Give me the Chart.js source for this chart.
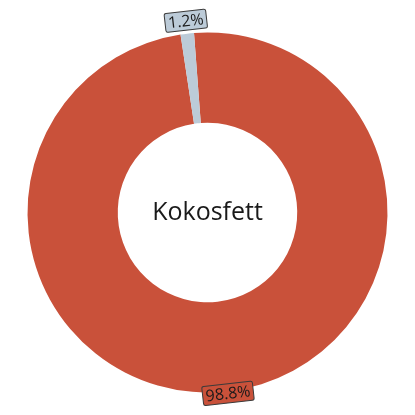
<!DOCTYPE html>
<html>
<head>
<meta charset="utf-8">
<script src="https://cdn.jsdelivr.net/npm/chart.js@4/dist/chart.umd.min.js"></script>
<style>
  html, body { margin: 0; padding: 0; background: #fff; }
  #wrap { width: 415px; height: 415px; }
</style>
</head>
<body>
<div id="wrap"><canvas id="chart"></canvas></div>
<script>
// ---------- Data ----------
const labels = ["Kokosfett", "Övrigt"];
const shares = [98.8, 1.2];
const sliceColors = ["#c9513a", "#bccbd8"];
const labelOffsets = [2, 13];   // how far past the rim each percentage box sits
const centerTitle = "Kokosfett";

// ---------- Plugins ----------
const centerText = {
  id: "centerText",
  afterDraw(chart) {
    const arc = chart.getDatasetMeta(0).data[0];
    const ctx = chart.ctx;
    ctx.save();
    ctx.font = "25px 'Open Sans', sans-serif";
    ctx.fillStyle = "#1a1a1a";
    ctx.textAlign = "center";
    ctx.textBaseline = "middle";
    ctx.fillText(centerTitle, arc.x, arc.y);
    ctx.restore();
  }
};

const sliceLabels = {
  id: "sliceLabels",
  afterDraw(chart) {
    const ctx = chart.ctx;
    const meta = chart.getDatasetMeta(0);
    meta.data.forEach((arc, i) => {
      const mid = (arc.startAngle + arc.endAngle) / 2;
      const r = arc.outerRadius + labelOffsets[i];
      const x = arc.x + Math.cos(mid) * r;
      const y = arc.y + Math.sin(mid) * r;
      // tilt the box with the slice direction, kept readable
      let tilt = mid + Math.PI / 2;
      while (tilt > Math.PI / 2) tilt -= Math.PI;
      while (tilt < -Math.PI / 2) tilt += Math.PI;
      const text = shares[i].toFixed(1) + "%";
      ctx.save();
      ctx.translate(x, y);
      ctx.rotate(tilt);
      ctx.font = "16px 'Open Sans', sans-serif";
      const w = ctx.measureText(text).width + 6;
      const h = 19;
      ctx.fillStyle = sliceColors[i];
      ctx.strokeStyle = "#3a3a3a";
      ctx.lineWidth = 1;
      ctx.beginPath();
      ctx.roundRect(-w / 2, -h / 2, w, h, 2);
      ctx.fill();
      ctx.stroke();
      ctx.fillStyle = "#1a1a1a";
      ctx.textAlign = "center";
      ctx.textBaseline = "middle";
      ctx.fillText(text, 0, 1);
      ctx.restore();
    });
  }
};

// ---------- Chart ----------
new Chart(document.getElementById("chart"), {
  type: "doughnut",
  data: {
    labels,
    datasets: [{
      data: shares,
      backgroundColor: sliceColors,
      borderWidth: 0,
      hoverOffset: 0
    }]
  },
  options: {
    responsive: true,
    maintainAspectRatio: false,
    animation: false,
    rotation: -4.3,
    radius: 180,
    cutout: 90,
    layout: { padding: { top: 32, bottom: 22, left: 27, right: 27 } },
    plugins: {
      legend: { display: false },
      tooltip: { enabled: false }
    }
  },
  plugins: [centerText, sliceLabels]
});
</script>
</body>
</html>
